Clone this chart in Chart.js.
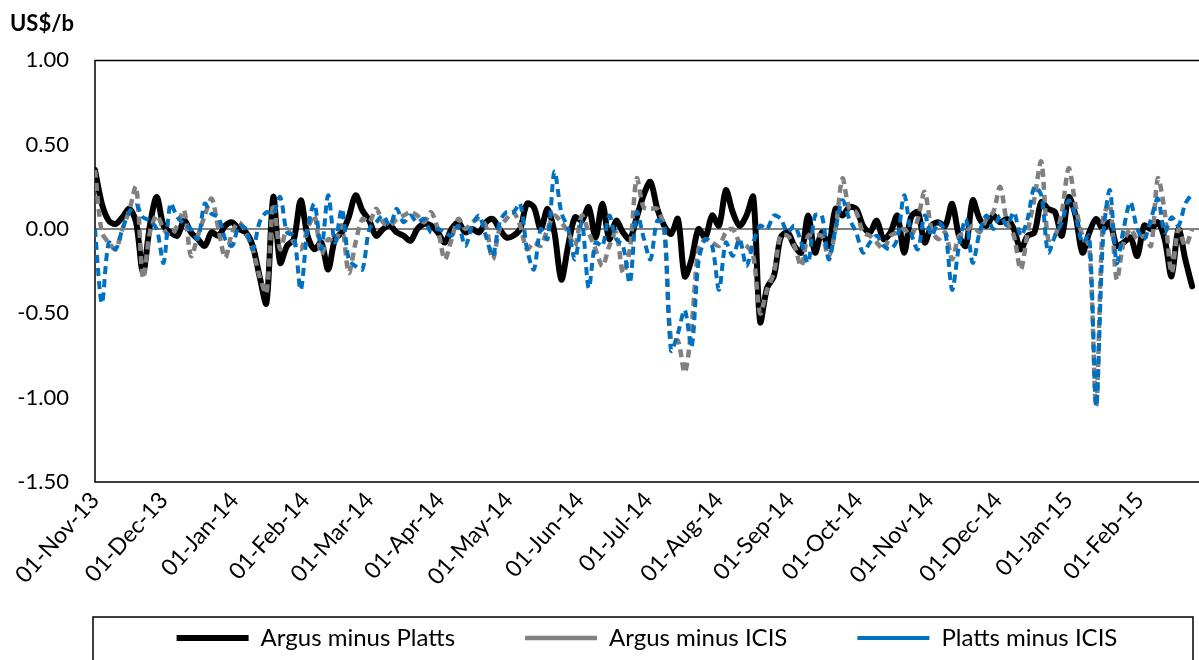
<!DOCTYPE html>
<html>
<head>
<meta charset="utf-8">
<script src="https://cdn.jsdelivr.net/npm/chart.js@4.4.0/dist/chart.umd.min.js"></script>
<style>
html,body{margin:0;padding:0;background:#fff;}
</style>
</head>
<body>
<canvas id="spreadChart" width="1199" height="660"></canvas>
<script>
// days counted from 01-Nov-13, one reading every third day
const sampleDays = Array.from({length:161}, (_, i) => i * 3);

const argusPlatts = [
  0.35, 0.15, 0.05, 0.03, 0.07, 0.12, 0.04, -0.26, 0.02, 0.19, 0.02, -0.02, -0.04, 0.05, -0.02, -0.06, -0.10,
  -0.02, -0.04, 0.02, 0.04, 0.00, -0.02, -0.10, -0.28, -0.44, 0.19, -0.20, -0.10, -0.06, 0.17, -0.04, -0.12,
  -0.08, -0.24, -0.06, -0.02, 0.07, 0.20, 0.11, 0.05, -0.04, 0.00, 0.02, -0.02, -0.04, -0.07, 0.00, 0.03,
  0.02, -0.02, -0.08, 0.00, 0.04, -0.02, 0.00, -0.02, 0.04, 0.06, 0.00, -0.05, -0.04, 0.00, 0.15, 0.13,
  0.00, 0.12, -0.02, -0.30, -0.10, 0.07, 0.05, 0.13, -0.05, 0.15, -0.06, 0.05, -0.02, -0.06, 0.07, 0.20,
  0.28, 0.12, 0.02, -0.03, 0.06, -0.28, -0.18, 0.00, -0.05, 0.08, 0.02, 0.23, 0.10, 0.02, 0.08, 0.19,
  -0.55, -0.35, -0.28, -0.05, -0.02, -0.10, -0.14, 0.08, -0.14, -0.02, -0.10, 0.12, 0.08, 0.13, 0.12, 0.02,
  -0.02, 0.05, -0.06, -0.02, 0.08, -0.14, 0.07, 0.10, -0.08, 0.02, 0.04, 0.02, 0.15, -0.04, -0.10, 0.17,
  0.06, 0.02, 0.08, 0.04, 0.06, 0.00, -0.12, -0.04, -0.02, 0.16, 0.12, 0.10, -0.04, 0.19, 0.08, -0.14,
  -0.02, 0.06, 0.00, 0.04, -0.10, -0.08, -0.05, -0.16, 0.02, 0.00, 0.04, -0.06, -0.28, 0.00, -0.18, -0.34
];

const argusIcis = [
  0.35, -0.02, -0.08, -0.12, 0.00, 0.11, 0.25, -0.29, -0.02, 0.08, 0.00, -0.04, 0.02, 0.11, -0.16, -0.04, 0.08,
  0.18, 0.00, -0.17, -0.02, 0.04, -0.02, -0.12, -0.28, -0.38, 0.15, -0.12, 0.00, -0.08, -0.12, 0.00, 0.08,
  -0.15, -0.06, -0.08, 0.02, -0.26, -0.08, 0.06, 0.04, 0.12, 0.04, 0.02, 0.06, 0.08, 0.10, 0.08, 0.04,
  0.10, 0.00, -0.18, -0.06, 0.06, 0.00, 0.04, 0.06, 0.02, -0.18, 0.00, 0.06, 0.10, 0.02, -0.12, -0.08,
  -0.10, 0.00, 0.08, 0.04, -0.02, -0.10, 0.08, -0.02, -0.12, -0.22, -0.10, -0.02, -0.26, -0.12, 0.30, 0.13,
  0.12, 0.12, 0.00, -0.66, -0.66, -0.85, -0.58, -0.12, -0.06, -0.08, -0.10, -0.02, 0.00, -0.08, -0.10, -0.16,
  -0.50, -0.36, -0.26, -0.04, -0.04, -0.10, -0.22, -0.04, -0.04, -0.04, -0.16, 0.00, 0.30, 0.12, 0.10, -0.02,
  -0.04, -0.08, -0.12, -0.04, -0.02, 0.00, -0.04, 0.06, 0.22, 0.00, -0.06, -0.02, -0.18, -0.04, -0.02, 0.02,
  -0.02, 0.06, 0.10, 0.25, 0.04, -0.04, -0.24, -0.02, 0.18, 0.40, -0.06, -0.04, 0.10, 0.36, 0.14, -0.04,
  -0.10, -1.05, 0.06, 0.15, -0.30, -0.08, 0.00, -0.06, -0.04, -0.10, 0.30, 0.10, -0.26, 0.00, -0.10, 0.00
];

const plattsIcis = [
  0.00, -0.44, -0.08, -0.12, 0.00, 0.10, 0.14, 0.07, 0.05, 0.00, -0.20, 0.15, 0.07, 0.03, 0.00, -0.06, 0.15,
  0.09, 0.07, -0.06, -0.10, 0.02, 0.00, -0.12, 0.04, 0.10, 0.09, 0.19, -0.02, -0.04, -0.36, 0.00, 0.15,
  -0.12, 0.20, -0.08, 0.12, -0.18, -0.22, -0.24, 0.00, 0.04, 0.08, 0.02, 0.12, 0.04, 0.08, 0.04, 0.06,
  -0.02, 0.00, -0.02, -0.04, 0.02, -0.10, 0.02, 0.08, -0.04, -0.16, 0.04, 0.10, 0.10, 0.15, -0.12, -0.24,
  0.00, -0.06, 0.34, 0.10, 0.00, -0.18, 0.04, -0.35, -0.08, -0.10, 0.08, -0.06, -0.10, -0.32, 0.10, -0.05,
  -0.18, 0.05, 0.02, -0.72, -0.62, -0.48, -0.70, -0.20, -0.06, -0.10, -0.36, -0.08, -0.16, -0.06, -0.22, -0.08,
  0.02, 0.00, 0.08, 0.06, -0.02, 0.02, -0.08, -0.20, 0.08, 0.08, -0.18, 0.00, 0.17, 0.06, -0.02, -0.14,
  -0.08, -0.04, -0.10, -0.12, -0.06, 0.20, -0.02, -0.12, 0.08, -0.04, 0.04, -0.02, -0.36, -0.10, 0.06, -0.20,
  -0.02, 0.08, 0.00, 0.08, 0.02, 0.10, -0.04, 0.06, 0.25, 0.20, -0.14, -0.04, 0.04, 0.17, 0.08, -0.08,
  -0.04, -1.05, -0.06, 0.23, -0.20, 0.00, 0.16, 0.00, -0.06, 0.06, 0.18, -0.02, 0.07, 0.02, 0.15, 0.21
];

const monthTickDays = [0, 30, 61, 92, 120, 151, 181, 212, 242, 273, 304, 334, 365, 395, 426, 457];
const monthTickLabels = [
  "01-Nov-13", "01-Dec-13", "01-Jan-14", "01-Feb-14", "01-Mar-14", "01-Apr-14", "01-May-14", "01-Jun-14",
  "01-Jul-14", "01-Aug-14", "01-Sep-14", "01-Oct-14", "01-Nov-14", "01-Dec-14", "01-Jan-15", "01-Feb-15"
];

const toPoints = vals => sampleDays.map((d, i) => ({x: d, y: vals[i]}));

const fontFamily = "Lato, 'Open Sans', sans-serif";

// plot frame (open on the right, as in the source) and the box round the legend
const framePlugin = {
  id: "frame",
  afterLayout(chart){
    // let the slanted date labels run down past the axis box instead of being clipped
    chart.scales.x.bottom = chart.height;
  },
  beforeDatasetsDraw(chart){
    const {ctx, chartArea: a} = chart;
    ctx.save();
    ctx.strokeStyle = "#000";
    ctx.lineWidth = 1.5;
    ctx.beginPath();
    ctx.moveTo(a.right + 2, a.top);
    ctx.lineTo(a.left, a.top);
    ctx.lineTo(a.left, a.bottom);
    ctx.lineTo(a.right + 2, a.bottom);
    ctx.stroke();
    ctx.restore();
  },
  afterDraw(chart){
    const {ctx, chartArea: a} = chart;
    ctx.save();
    ctx.strokeStyle = "#000";
    ctx.lineWidth = 1.5;
    ctx.strokeRect(a.left - 2, chart.height - 43, a.right - a.left - 4, 80);
    ctx.restore();
  }
};

const spreadChart = new Chart(document.getElementById("spreadChart"), {
  type: "line",
  data: {
    datasets: [
      {
        label: "Platts minus ICIS",
        data: toPoints(plattsIcis),
        borderColor: "#0070C0",
        borderWidth: 4,
        borderDash: [8, 5],
        tension: 0.3,
        pointRadius: 0,
        fill: false
      },
      {
        label: "Argus minus ICIS",
        data: toPoints(argusIcis),
        borderColor: "#808080",
        borderWidth: 4.5,
        borderDash: [8, 5],
        tension: 0.3,
        pointRadius: 0,
        fill: false
      },
      {
        label: "Argus minus Platts",
        data: toPoints(argusPlatts),
        borderColor: "#000000",
        borderWidth: 6,
        borderJoinStyle: "round",
        borderCapStyle: "round",
        tension: 0.3,
        pointRadius: 0,
        fill: false
      }
    ]
  },
  options: {
    responsive: false,
    animation: false,
    layout: {padding: {left: 10, right: 0, top: 0, bottom: 0}},
    plugins: {
      title: {
        display: true,
        text: "US$/b",
        align: "start",
        color: "#000",
        font: {family: fontFamily, size: 22, weight: "bold"},
        padding: {top: 11, bottom: 23}
      },
      legend: {
        position: "bottom",
        fullSize: false,
        reverse: true,
        labels: {
          usePointStyle: true,
          pointStyle: "line",
          pointStyleWidth: 72,
          padding: 70,
          color: "#000",
          font: {family: fontFamily, size: 24}
        }
      },
      tooltip: {enabled: false}
    },
    scales: {
      x: {
        type: "linear",
        min: 0,
        max: 483,
        afterBuildTicks(scale){
          scale.ticks = monthTickDays.map(v => ({value: v}));
        },
        afterFit(scale){
          scale.height = 74;
        },
        ticks: {
          autoSkip: false,
          minRotation: 48,
          maxRotation: 48,
          padding: 5,
          color: "#000",
          font: {family: fontFamily, size: 23},
          callback: (v, i) => monthTickLabels[i]
        },
        grid: {display: false, drawTicks: false},
        border: {display: false}
      },
      y: {
        min: -1.5,
        max: 1.0,
        afterFit(scale){
          scale.width = 85;
        },
        ticks: {
          stepSize: 0.5,
          padding: 26,
          color: "#000",
          font: {family: fontFamily, size: 22},
          callback: v => v.toFixed(2)
        },
        grid: {
          drawTicks: false,
          lineWidth: 2,
          color: c => (c.tick && c.tick.value === 0) ? "#808080" : "rgba(0,0,0,0)"
        },
        border: {display: false}
      }
    }
  },
  plugins: [framePlugin]
});
</script>
</body>
</html>
